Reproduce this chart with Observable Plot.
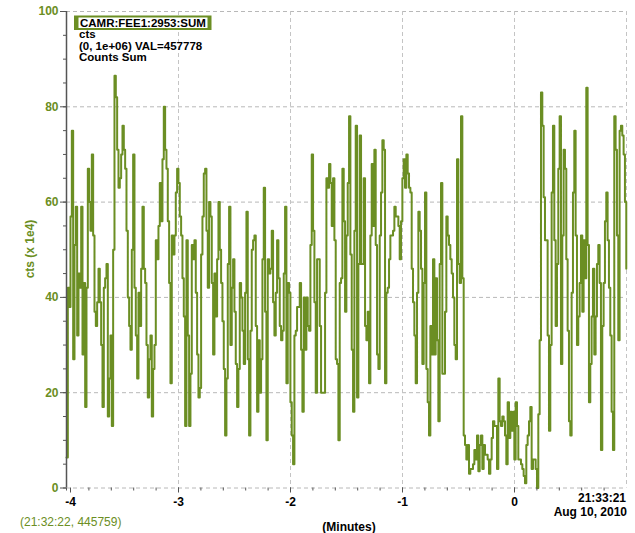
<!DOCTYPE html>
<html><head><meta charset="utf-8">
<script src="https://cdn.jsdelivr.net/npm/d3@7"></script>
<script src="https://cdn.jsdelivr.net/npm/@observablehq/plot@0.6"></script>
<style>
html,body{margin:0;padding:0;background:#fff;}
#chart{width:635px;height:533px;}
</style></head><body><div id="chart"></div>
<script>
// Counts sum (x 1e4), one sample every sampleStep minutes starting at startMinute
const values = [
6.4,42,38,57,75,27,51,59,32,45,42,59,28,43,17,42,67,60,54,70,
53,37,34,39,46,39,30,17,42,44,47,15,23,32,13,50,86.5,82,71,63,
65,70,76,71,67,54,40,34,29,50,70,42,32,23,41,34,46,59,46,43,
30,19,27,32,15,25,30,52,48,55,64,56,69,80,71,67,56,43,22,53,
49,53,62,67,64,57,53,44,36,13,52,32,13,24,51,48,52,41,28,19,
21,49,57,66,67,
54,42,60,57,43,28,45,36,48,60,50,43,35,25,11,23,47,59,30,42,
48,37,26,17,25,43,40,33,26,41,58,27,11,33,50,52,53,34,16,31,
20,27,48,63,37,10,48,45,46,54,39,32,41,52,44,34,31,33,45,59,
22,43,41,18,11,5,32,33,38,38,43,29,16,40,29,40,34,33,51,70,
54,39,20,48,48,34,20,20,20,41,65,63,68,64,55,65,52,27,26,10,
43,44,67,56,37,
53,64,78,49,29,16,54,76,19,47,74,47,47,65,34,31,37,22,53,68,
55,71,51,28,25,53,62,73,71,22,41,42,48,53,53,54,59,57,57,55,
48,56,65,69,63,70,66,63,62,46,39,32,22,41,58,54,46,26,43,62,
25,18,11,34,28,48,28,44,31,14,47,64,24,24,37,57,53,51,48,45,
40,30,27,69,47,43,78,44,11,9,6,9,3,4,4,5,8,6,11,3.5,
9,11,4,9,7,
7,6,3,6,10.5,14,13,13,4,23,14,13,15,14,11,5,18,10.5,16,12,
16,6,18,13,6,6,5,4,2.5,1,9,11,14,17,4,6,6,4,0,15.5,
31,83,76,61,52,52,32,12,30,62,76,52,34,47,67,78,26,53,71,67,
48,33,14,11,41,62,75,53,30,36,43,53,37,52,44,84,51,18,26,36,
46,28,36,47,51,43,8,34,43,56,62,52,42,32,16,8,78,71,53,31,
75,76,74,70,60,46
];
const startMinute = -4;
const sampleStep = 0.0119;

const yTicks = [0, 20, 40, 60, 80, 100];
const yMinorTicks = [0,5,10,15,20,25,30,35,40,45,50,55,60,65,70,75,80,85,90,95,100];
const xTicks = [-3, -2, -1, 0];
const xFirstTick = [-4];
const xGrid = [-3, -2, -1, 0, 1];
const xMinorTicks = [-4,-3.8,-3.6,-3.4,-3.2,-3,-2.8,-2.6,-2.4,-2.2,-2,-1.8,-1.6,-1.4,-1.2,-1,-0.8,-0.6,-0.4,-0.2,0,0.2,0.4,0.6,0.8];

const pvName = "CAMR:FEE1:2953:SUM";
const legendLines = ["cts", "(0, 1e+06) VAL=457778", "Counts Sum"];
const yLabel = "cts (x 1e4)";
const xLabel = "(Minutes)";
const endTime = "21:33:21";
const endDate = "Aug 10, 2010";
const cursorText = "(21:32:22, 445759)";

const olive = "#6b8e23";
const data = values.map((v, i) => ({t: startMinute + i * sampleStep, v}));
const fmt = d => String(d);

const svg = Plot.plot({
  width: 635,
  height: 533,
  marginLeft: 66,
  marginRight: 9,
  marginTop: 11,
  marginBottom: 45.5,
  style: {fontFamily: "'Liberation Sans', Arial, sans-serif", fontSize: "12px", background: "#fff"},
  x: {domain: [-4, 1]},
  y: {domain: [0, 100]},
  marks: [
    Plot.gridY(yTicks, {stroke: "#b8b8b8", strokeOpacity: 1, strokeDasharray: "4,3"}),
    Plot.gridX(xGrid, {stroke: "#c4c4c4", strokeOpacity: 1, strokeDasharray: "4,3"}),
    Plot.line(data, {x: "t", y: "v", curve: "step-after", stroke: olive, strokeWidth: 2}),
    Plot.ruleX(xFirstTick, {stroke: "#555", strokeWidth: 1.5}),
    Plot.axisY(yTicks, {tickSize: 6, tickPadding: 2, stroke: "#555", fill: olive, fontWeight: "bold", fontSize: 12, tickFormat: fmt, label: null}),
    Plot.axisY(yMinorTicks, {tickSize: 3, text: null, stroke: "#555", label: null}),
    Plot.axisX(xTicks, {tickSize: 5, tickPadding: 4, stroke: "#555", fill: "#000", fontWeight: "bold", fontSize: 12, tickFormat: fmt, label: null}),
    Plot.axisX(xFirstTick, {tickSize: 5, tickPadding: 4, stroke: "#555", fill: "#000", fontWeight: "bold", fontSize: 12, tickFormat: fmt, dx: 4, label: null}),
    Plot.axisX(xMinorTicks, {tickSize: 3, text: null, stroke: "#555", label: null})
  ]
});

const s = d3.select(svg);
function addText(x, y, str, opts = {}) {
  return s.append("text").attr("x", x).attr("y", y)
    .attr("text-anchor", opts.anchor || "start")
    .attr("font-size", opts.size || 12)
    .attr("font-weight", opts.weight || "bold")
    .attr("fill", opts.fill || "#000")
    .text(str);
}
// legend box
s.append("rect").attr("x", 74).attr("y", 15.5).attr("width", 137.5).attr("height", 14.5).attr("fill", olive);
s.append("rect").attr("x", 78.5).attr("y", 17.5).attr("width", 129).attr("height", 10.5).attr("fill", "#fff");
addText(80, 27, pvName, {size: 11.5});
legendLines.forEach((t, i) => addText(79, 38 + i * 11.6, t, {size: 11.5}));
// y label
s.append("text").attr("transform", "translate(34,249) rotate(-90)").attr("text-anchor", "middle")
  .attr("font-size", 12).attr("font-weight", "bold").attr("fill", olive).text(yLabel);
// bottom texts
addText(626, 502, endTime, {anchor: "end"});
addText(627, 516, endDate, {anchor: "end"});
addText(349, 531, xLabel, {anchor: "middle"});
addText(20, 526, cursorText, {weight: "normal", fill: olive});

document.getElementById("chart").append(svg);
</script>
</body></html>
